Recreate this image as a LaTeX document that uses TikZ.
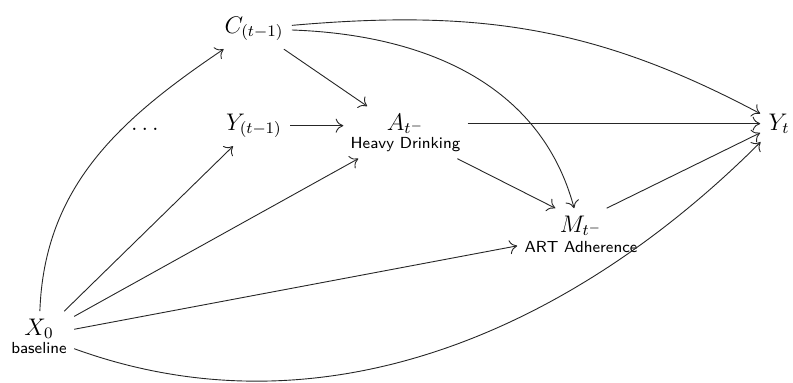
\documentclass[tikz,border=0pt]{standalone}
\usetikzlibrary{arrows.meta}
\newcommand\varlab{\sffamily\fontsize{8pt}{9pt}\selectfont}
\begin{document}
\begin{tikzpicture}[x=0.5pt,y=-0.5pt,
  var/.style={font=\fontsize{12pt}{9pt}\selectfont, inner sep=4pt, align=center, anchor=base},
  edge/.style={line width=0.45pt, draw=black!85, -{To[length=3.8pt,width=7pt]}}]
\useasboundingbox (0,0) rectangle (793,382);
\node[var] (C) at (254,33) {$C_{(t-1)}$};
\node[var] (dots) at (145,130) {$\dots$};
\node[var] (Y1) at (254,130) {$Y_{(t-1)}$};
\node[var, inner sep=3.5pt] (A) at (405.5,148) {$A_{t^-}$\\{\varlab Heavy Drinking}};
\node[var, inner sep=3.5pt] (M) at (581,252) {$M_{t^-}$\\[1pt]{\varlab ART Adherence}};
\node[var] (Yt) at (779,130) {$Y_t$};
\node[var, inner sep=3.5pt] (X0) at (39,353) {$X_0$\\{\varlab baseline}};
\draw[edge] (C) to[out=5,in=152] (Yt);
\draw[edge] (C) to[out=-2,in=105] (M);
\draw[edge] (C) -- (A);
\draw[edge] (Y1) -- (Y1 -| A.west);
\draw[edge] (Yt -| A.east) -- (Yt);
\draw[edge] (A) -- (M.135);
\draw[edge] (M.45) -- (Yt);
\draw[edge] (X0) to[out=88,in=-146] (C);
\draw[edge] (X0) -- (Y1);
\draw[edge] (X0) -- (A);
\draw[edge] (X0) -- (M);
\draw[edge] (X0.-20) to[out=-20,in=-135,looseness=0.95] (Yt);
\end{tikzpicture}
\end{document}
